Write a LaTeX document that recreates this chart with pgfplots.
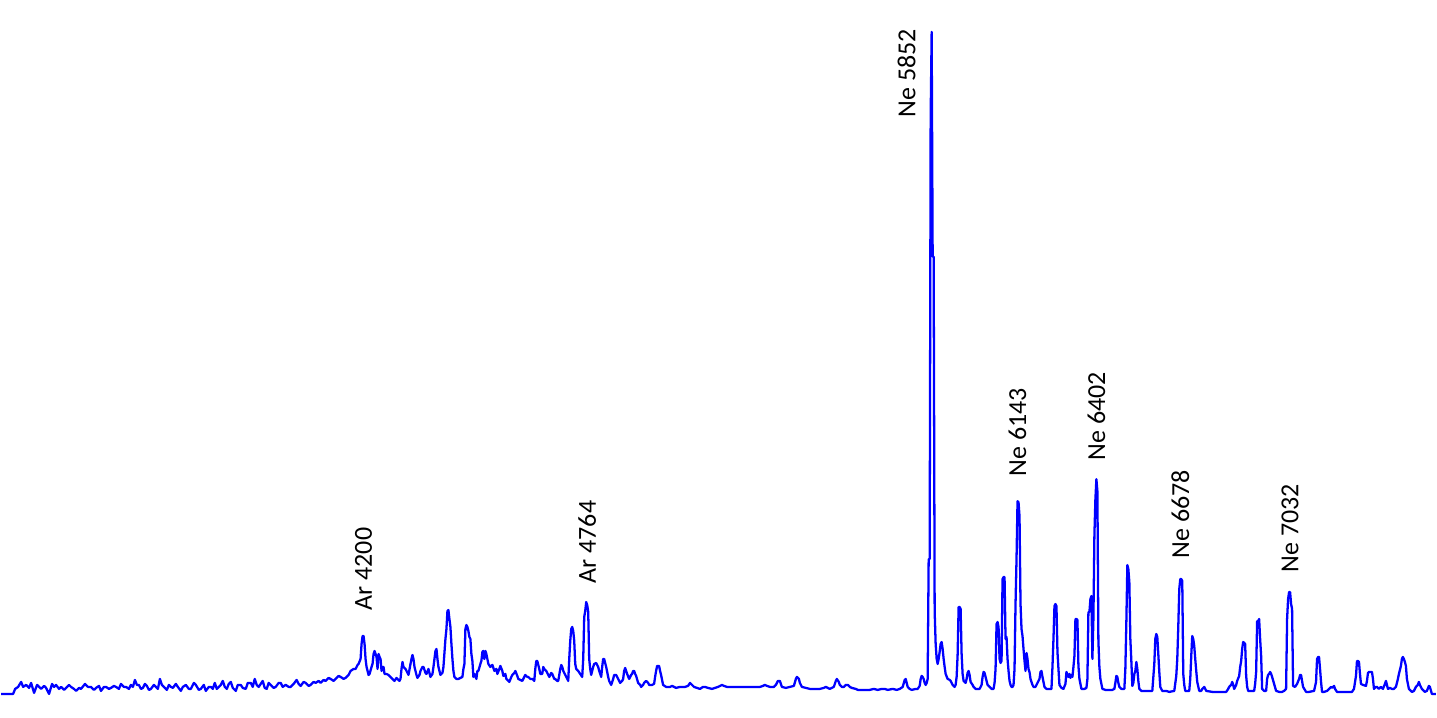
\documentclass[border=0pt]{standalone}
\usepackage{pgfplots}
\pgfplotsset{compat=1.18}
\usepackage{fontspec}
\setmainfont{Carlito}
\definecolor{specblue}{RGB}{0,0,255}
\tikzset{lbl/.style={rotate=90, anchor=west, inner sep=0pt, font=\fontsize{7.4}{9}\selectfont}}
\begin{document}
\begin{tikzpicture}
\begin{axis}[
  scale only axis, width=14.37cm, height=7.19cm,
  xmin=0, xmax=1437, ymin=0, ymax=719, y dir=reverse,
  hide axis, clip=false,
]
\path (rel axis cs:0,0) rectangle (rel axis cs:1,1);
\addplot[specblue, line width=0.65pt, line join=round] coordinates {
(0,695)(12,695)(14,690)(17,688)(20,683)(22,688)(25,686)(28,689)(30,684)(33,694)(36,686)(40,690)(43,687)(45,689)(48,695)(51,685)(53,688)(55,686)(58,690)(60,688)(63,691)(65,689)(68,686)(70,688)(73,690)(75,692)(78,689)(80,690)(84,685)(87,688)(90,688)(93,691)(95,689)(98,687)(100,692)(103,688)(105,688)(108,690)(110,689)(113,687)(115,688)(118,690)(120,685)(123,688)(125,688)(128,690)(130,686)(132,688)(134,681)(136,686)(138,686)(140,690)(142,689)(144,685)(146,687)(148,691)(150,690)(153,686)(155,688)(157,690)(159,680)(161,686)(163,688)(166,691)(168,686)(170,688)(172,689)(175,685)(177,688)(180,692)(182,688)(185,686)(188,690)(190,690)(193,684)(195,686)(198,691)(200,690)(203,686)(205,692)(208,688)(210,688)(212,690)(214,684)(216,690)(218,688)(220,686)(222,682)(224,688)(226,690)(228,685)(230,683)(232,689)(235,692)(237,686)(240,686)(242,689)(245,690)(247,684)(250,684)(252,688)(254,680)(256,686)(258,688)(260,685)(262,682)(264,689)(266,690)(268,684)(270,686)(273,689)(275,688)(278,684)(280,684)(282,688)(285,686)(288,688)(290,688)(293,685)(296,681)(298,685)(300,687)(303,683)(305,684)(308,687)(310,686)(313,683)(315,684)(318,682)(320,684)(323,681)(325,682)(328,679)(330,680)(333,682)(335,680)(338,677)(340,678)(343,680)(345,679)(348,676)(350,672)(353,670)(355,670)(357,666)(358,665)(360,660)(361,645)(362,637)(363,637)(364,645)(365,660)(366,668)(368,676)(369,675)(371,668)(372,665)(373,655)(374,652)(375,655)(376,658)(377,670)(378,655)(379,658)(380,660)(381,672)(382,668)(383,668)(384,675)(386,675)(388,676)(390,678)(392,680)(394,682)(396,679)(397,680)(399,682)(400,680)(401,670)(402,663)(403,668)(405,670)(407,674)(408,676)(410,665)(411,660)(412,656)(413,660)(414,668)(416,676)(417,679)(419,676)(420,672)(422,668)(423,668)(425,674)(426,675)(428,670)(430,678)(432,675)(433,668)(435,652)(436,650)(437,660)(438,668)(440,676)(442,674)(443,668)(445,640)(446,630)(447,612)(448,611)(449,620)(450,628)(451,645)(452,660)(453,672)(454,678)(456,680)(458,680)(460,679)(462,678)(463,670)(464,665)(465,630)(466,626)(467,628)(468,632)(469,638)(470,640)(471,655)(472,662)(473,678)(474,675)(476,680)(477,672)(478,672)(480,665)(481,662)(482,653)(483,652)(484,660)(485,652)(486,655)(487,660)(488,665)(490,668)(492,666)(494,672)(496,670)(497,675)(499,670)(500,667)(502,672)(503,677)(505,675)(506,680)(508,682)(509,683)(511,678)(512,676)(514,674)(515,672)(517,677)(518,680)(520,681)(522,682)(524,678)(525,676)(527,678)(528,678)(530,680)(532,680)(534,682)(535,670)(536,662)(537,662)(539,670)(540,675)(542,675)(543,668)(544,670)(546,672)(548,676)(549,678)(551,674)(552,675)(554,680)(555,680)(557,682)(558,682)(560,670)(561,666)(562,668)(563,672)(565,676)(566,678)(568,682)(569,660)(570,642)(571,630)(572,628)(573,632)(574,642)(575,665)(576,670)(578,672)(580,675)(582,678)(583,660)(584,618)(585,612)(586,603)(587,606)(588,613)(589,660)(590,670)(591,676)(593,668)(594,665)(596,664)(598,668)(599,672)(601,678)(602,668)(603,660)(604,660)(605,664)(606,668)(608,678)(609,682)(611,686)(613,680)(614,676)(616,676)(618,680)(620,684)(622,682)(623,680)(624,672)(625,669)(626,672)(627,675)(629,680)(631,676)(632,675)(633,672)(634,672)(635,675)(636,677)(638,684)(640,686)(641,688)(643,686)(644,684)(646,682)(648,684)(649,686)(652,686)(654,685)(655,678)(656,672)(657,667)(659,667)(660,672)(661,676)(663,686)(666,688)(668,688)(670,688)(672,687)(674,688)(676,689)(680,688)(685,688)(688,687)(690,684)(692,686)(694,688)(697,689)(700,690)(703,688)(705,688)(708,689)(712,690)(715,689)(718,688)(720,687)(722,686)(724,687)(727,688)(733,688)(740,688)(750,688)(760,688)(763,687)(765,686)(767,687)(770,688)(774,688)(776,686)(778,682)(780,682)(782,688)(786,689)(790,688)(794,687)(796,680)(797,678)(799,680)(800,684)(802,688)(806,689)(810,690)(815,690)(820,690)(824,689)(826,688)(830,690)(834,688)(836,682)(837,680)(839,683)(840,686)(842,688)(844,688)(846,686)(848,686)(850,688)(852,689)(856,690)(858,691)(865,691)(870,691)(874,690)(878,691)(882,690)(885,690)(888,691)(893,690)(897,691)(900,690)(903,688)(905,681)(906,680)(907,684)(908,688)(910,690)(912,691)(916,690)(918,690)(920,687)(921,680)(922,677)(923,678)(924,680)(925,684)(926,686)(927,684)(928,680)(929,560)(930,560)(931,117)(932,32)(933,257)(934,257)(935,612)(936,645)(937,660)(938,665)(939,660)(940,653)(941,645)(942,643)(943,650)(944,660)(945,668)(946,675)(948,680)(950,681)(951,682)(953,686)(955,688)(956,686)(957,678)(958,656)(959,608)(960,608)(961,610)(962,655)(963,675)(964,682)(966,684)(967,680)(968,674)(969,672)(970,676)(971,683)(973,686)(974,688)(976,690)(978,690)(980,690)(982,686)(983,678)(984,673)(985,674)(986,678)(987,682)(988,686)(990,688)(992,690)(994,690)(995,684)(996,670)(997,625)(998,623)(999,628)(1000,660)(1001,664)(1002,662)(1003,580)(1004,578)(1005,578)(1006,640)(1007,638)(1008,660)(1009,672)(1010,682)(1011,686)(1012,688)(1013,688)(1014,686)(1015,670)(1016,605)(1017,560)(1018,502)(1019,503)(1020,517)(1021,605)(1022,630)(1023,637)(1024,650)(1025,662)(1026,672)(1027,654)(1028,660)(1029,670)(1030,673)(1031,680)(1033,686)(1034,688)(1036,688)(1038,684)(1040,680)(1041,673)(1042,672)(1043,678)(1045,688)(1047,690)(1050,690)(1052,690)(1053,668)(1054,640)(1055,607)(1056,605)(1057,607)(1058,653)(1059,670)(1060,686)(1062,689)(1064,690)(1066,685)(1067,673)(1068,676)(1069,678)(1070,675)(1071,679)(1072,676)(1073,678)(1074,668)(1075,657)(1076,620)(1077,620)(1078,621)(1079,667)(1080,680)(1082,690)(1085,690)(1087,689)(1088,680)(1089,613)(1090,613)(1091,600)(1092,597)(1093,660)(1094,620)(1095,536)(1096,500)(1097,480)(1098,492)(1099,642)(1100,668)(1101,680)(1103,690)(1106,691)(1110,691)(1113,691)(1115,690)(1116,684)(1117,677)(1118,678)(1119,684)(1120,688)(1122,690)(1125,690)(1126,670)(1127,623)(1128,566)(1129,570)(1130,583)(1131,640)(1132,662)(1133,687)(1134,684)(1135,675)(1136,672)(1137,663)(1138,670)(1139,682)(1140,690)(1142,692)(1145,692)(1150,692)(1153,692)(1155,665)(1156,640)(1157,635)(1158,638)(1159,655)(1160,673)(1161,688)(1163,692)(1167,692)(1170,693)(1175,692)(1177,677)(1178,660)(1179,628)(1180,590)(1181,580)(1182,580)(1183,582)(1184,675)(1185,686)(1186,692)(1190,692)(1191,680)(1192,657)(1193,637)(1194,640)(1195,647)(1196,660)(1197,672)(1198,683)(1200,692)(1202,692)(1203,690)(1205,688)(1207,692)(1213,693)(1220,693)(1227,693)(1229,690)(1230,688)(1232,686)(1233,683)(1234,686)(1235,690)(1237,686)(1238,682)(1240,677)(1241,668)(1242,662)(1243,650)(1244,643)(1245,644)(1246,645)(1247,677)(1248,688)(1249,692)(1252,692)(1255,692)(1256,685)(1257,673)(1258,622)(1259,622)(1260,620)(1261,640)(1262,657)(1263,690)(1265,692)(1267,692)(1268,680)(1269,676)(1270,675)(1271,673)(1272,675)(1273,678)(1275,685)(1277,692)(1280,693)(1283,693)(1285,692)(1287,690)(1288,620)(1289,600)(1290,593)(1291,593)(1292,605)(1293,610)(1294,687)(1296,688)(1298,685)(1300,680)(1301,676)(1302,676)(1303,682)(1304,688)(1307,693)(1310,693)(1315,692)(1317,683)(1318,660)(1319,658)(1320,658)(1321,670)(1322,683)(1323,693)(1325,693)(1328,692)(1330,690)(1332,688)(1333,689)(1335,687)(1336,690)(1338,693)(1345,693)(1353,693)(1355,690)(1357,677)(1358,662)(1359,662)(1360,663)(1361,675)(1362,685)(1364,686)(1367,687)(1368,682)(1369,674)(1370,673)(1372,673)(1373,673)(1374,680)(1375,690)(1377,688)(1378,688)(1380,690)(1382,688)(1384,690)(1386,685)(1387,682)(1388,686)(1389,690)(1391,689)(1393,690)(1395,690)(1397,688)(1399,680)(1400,675)(1402,667)(1403,660)(1404,658)(1405,660)(1406,663)(1407,667)(1408,680)(1410,690)(1412,692)(1413,693)(1415,692)(1417,688)(1419,686)(1420,683)(1421,686)(1423,690)(1425,692)(1426,693)(1428,692)(1430,687)(1431,688)(1433,695)(1437,695)
};
\node[lbl] at (axis cs:363,612) {Ar 4200};
\node[lbl] at (axis cs:587,585) {Ar 4764};
\node[lbl] at (axis cs:907,118) {Ne 5852};
\node[lbl] at (axis cs:1018,478) {Ne 6143};
\node[lbl] at (axis cs:1097,462) {Ne 6402};
\node[lbl] at (axis cs:1181,560) {Ne 6678};
\node[lbl] at (axis cs:1291,574) {Ne 7032};
\end{axis}
\end{tikzpicture}
\end{document}
